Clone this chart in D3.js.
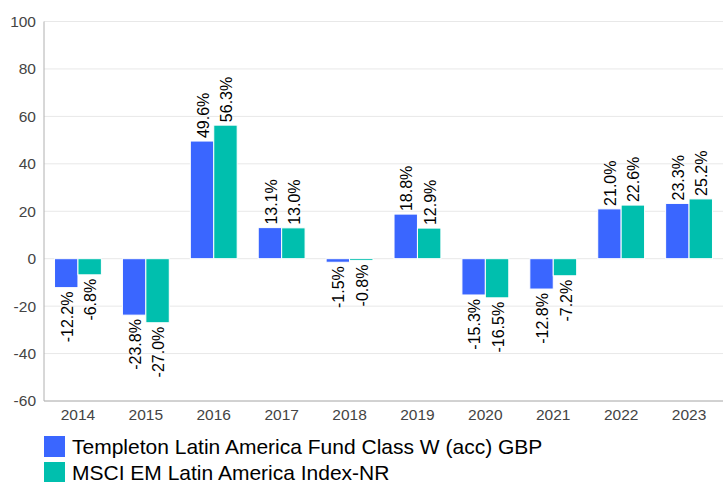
<!DOCTYPE html>
<html lang="en">
<head>
<meta charset="UTF-8">
<title>Calendar Year Returns</title>
<script src="https://d3js.org/d3.v7.min.js"></script>
<style>
  body { margin: 0; background: #fff; }
  svg { font-family: "Liberation Sans", Arial, sans-serif; }
</style>
</head>
<body>
<svg id="chart" width="723" height="482"></svg>
<script>
  // calendar year returns
  const years = ["2014","2015","2016","2017","2018","2019","2020","2021","2022","2023"];
  const fund  = [-12.2, -23.8, 49.6, 13.1, -1.5, 18.8, -15.3, -12.8, 21.0, 23.3];
  const index = [-6.8, -27.0, 56.3, 13.0, -0.8, 12.9, -16.5, -7.2, 22.6, 25.2];
  const seriesNames = ["Templeton Latin America Fund Class W (acc) GBP", "MSCI EM Latin America Index-NR"];
  const colors = ["#3a66ff", "#00bfae"];
  const yTicks = [-60, -40, -20, 0, 20, 40, 60, 80, 100];

  const svg = d3.select("#chart");
  const mLeft = 44, mRight = 723, mTop = 21.5, mBottom = 401;

  let x = d3.scaleBand().domain(years).range([mLeft, mRight]).paddingInner(0.31).paddingOuter(0.155);
  let y = d3.scaleLinear().domain([-60, 100]).range([mBottom, mTop]);
  let x1 = d3.scaleBand().domain([0, 1]).range([0, x.bandwidth()]);

  // gridlines
  svg.append("g").selectAll("line")
    .data(yTicks).enter().append("line")
      .attr("x1", mLeft).attr("x2", mRight)
      .attr("y1", d => y(d)).attr("y2", d => y(d))
      .attr("stroke", "#e8e8e8").attr("stroke-width", 1);

  // y axis labels
  svg.append("g").selectAll("text")
    .data(yTicks).enter().append("text")
      .attr("x", 36).attr("y", d => y(d))
      .attr("dy", "0.35em")
      .attr("text-anchor", "end")
      .attr("font-size", 15.5).attr("fill", "#444")
      .text(d => d);

  // bars + labels
  const rows = years.map((yr, i) => ({year: yr, vals: [fund[i], index[i]]}));
  const groups = svg.append("g").selectAll("g")
    .data(rows).enter().append("g")
      .attr("transform", d => `translate(${x(d.year)},0)`);

  groups.selectAll("rect")
    .data(d => d.vals).enter().append("rect")
      .attr("x", (d, i) => x1(i))
      .attr("width", x1.bandwidth())
      .attr("y", d => y(Math.max(0, d)))
      .attr("height", d => Math.abs(y(d) - y(0)))
      .attr("fill", (d, i) => colors[i])
      .attr("stroke", "#fff").attr("stroke-width", 1);

  groups.selectAll("text")
    .data(d => d.vals).enter().append("text")
      .attr("transform", (d, i) => {
        let cx = x1(i) + x1.bandwidth() / 2 + 1;
        let yy = d >= 0 ? y(d) - 3 : y(d) + 4;
        return `translate(${cx},${yy}) rotate(-90)`;
      })
      .attr("text-anchor", d => d >= 0 ? "start" : "end")
      .attr("dy", "0.35em")
      .attr("font-size", 16).attr("fill", "#000")
      .text(d => d.toFixed(1) + "%");

  // axis lines
  svg.append("line").attr("x1", mLeft).attr("x2", mLeft).attr("y1", mTop).attr("y2", mBottom)
    .attr("stroke", "#b0b0b0");
  svg.append("line").attr("x1", mLeft).attr("x2", mRight).attr("y1", mBottom).attr("y2", mBottom)
    .attr("stroke", "#b0b0b0");

  // x labels
  svg.append("g").selectAll("text")
    .data(years).enter().append("text")
      .attr("x", d => x(d) + x.bandwidth() / 2)
      .attr("y", 420)
      .attr("text-anchor", "middle")
      .attr("font-size", 15.5).attr("fill", "#444")
      .text(d => d);

  // legend
  const leg = svg.append("g").selectAll("g")
    .data(seriesNames).enter().append("g")
      .attr("transform", (d, i) => `translate(44,${436 + i * 26})`);
  leg.append("rect").attr("width", 21).attr("height", 21).attr("fill", (d, i) => colors[i]);
  leg.append("text").attr("x", 28).attr("y", 11).attr("dy", "0.35em")
    .attr("font-size", 21).attr("fill", "#000").text(d => d);
</script>
</body>
</html>
